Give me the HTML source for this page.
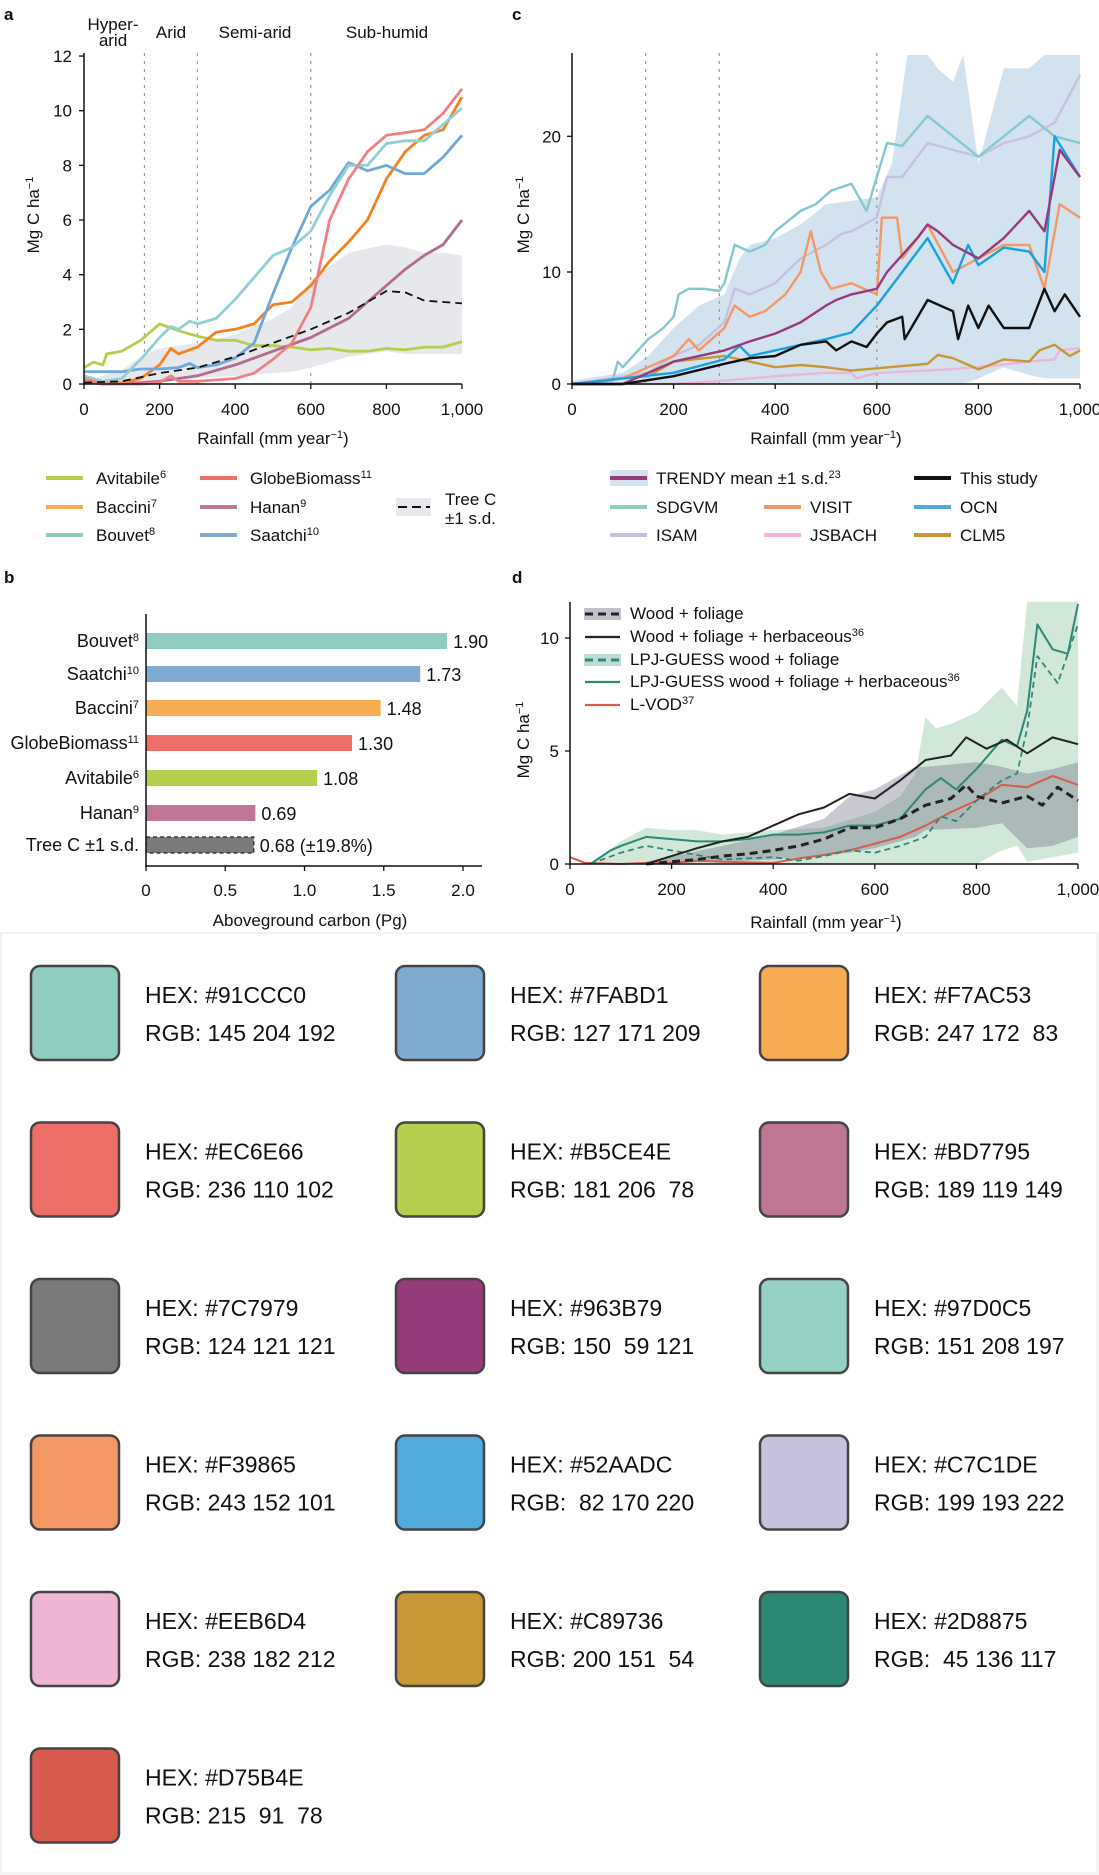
<!DOCTYPE html>
<html><head><meta charset="utf-8">
<style>
html,body{margin:0;padding:0;background:#fff;}
svg{display:block;font-family:"Liberation Sans",Arial,sans-serif;}
.tk{font-size:17px;fill:#111;}
.bk{font-size:18px;fill:#111;}
.lg{font-size:17px;fill:#111;}
.sw{font-family:"Comic Sans MS","Liberation Sans",sans-serif;font-size:23px;fill:#111;}
</style></head>
<body>
<svg id="fig" width="1099" height="1875" viewBox="0 0 1099 1875" xmlns="http://www.w3.org/2000/svg">
<rect x="0" y="932" width="1099" height="943" fill="#f3f3f3"/>
<rect x="2" y="934" width="1094" height="938" fill="#fff"/>
</svg>
<script>
// ---------- Panel a data ----------
const aRain = {
 avit:[0,25,50,60,100,150,200,250,300,350,400,450,500,550,600,650,700,750,800,850,900,950,1000],
 bouv:[0,50,100,150,200,230,250,280,300,350,400,450,500,550,600,650,700,750,800,850,900,950,1000],
 saat:[0,100,150,200,250,280,300,350,400,450,500,550,600,650,700,750,800,850,900,950,1000],
 bacc:[0,50,100,150,200,230,250,300,350,400,450,500,550,600,650,700,750,800,850,900,950,1000],
 glob:[0,50,150,200,230,250,300,350,400,450,500,550,600,625,650,700,750,800,850,900,950,1000],
 hana:[0,50,150,200,300,400,500,600,700,750,800,850,900,950,1000],
 tree:[0,100,200,300,400,500,600,700,750,800,850,900,950,1000]
};
const aAvitabile=[0.6,0.8,0.7,1.1,1.2,1.6,2.2,1.95,1.75,1.6,1.6,1.4,1.4,1.35,1.25,1.3,1.2,1.2,1.3,1.25,1.35,1.35,1.55];
const aBouvet=[0.3,0.1,0.2,0.9,1.7,2.1,2.0,2.3,2.2,2.4,3.1,3.9,4.7,5.0,5.6,6.9,8.0,8.0,8.8,8.9,8.9,9.5,10.1];
const aSaatchi=[0.45,0.45,0.55,0.55,0.6,0.75,0.6,0.7,0.95,1.5,3.3,5.0,6.5,7.1,8.1,7.8,8.0,7.7,7.7,8.3,9.1];
const aBaccini=[0.1,0,0.05,0.2,0.7,1.3,1.1,1.35,1.9,2.0,2.2,2.9,3.0,3.6,4.5,5.2,6.0,7.5,8.5,9.1,9.3,10.5];
const aGlobe=[0.2,0,0,0.05,0.3,0.1,0.1,0.15,0.2,0.4,0.9,1.5,2.8,4.4,6.0,7.5,8.5,9.1,9.2,9.3,9.9,10.8];
const aHanan=[0.1,0,0.05,0.1,0.3,0.7,1.2,1.7,2.4,3.0,3.6,4.2,4.7,5.1,6.0];
const aTree=[0.05,0.1,0.4,0.6,1.0,1.5,2.0,2.6,3.0,3.4,3.35,3.05,3.0,2.95];
const aBandX=[0,100,150,200,300,400,500,550,600,700,800,850,900,950,1000];
const aBandHi=[0.1,0.5,1.0,1.3,1.5,1.8,2.4,2.8,3.8,4.8,5.1,5.0,4.8,4.8,4.7];
const aBandLo=[0,0,0.05,0.1,0.2,0.3,0.4,0.45,0.6,1.0,1.2,1.1,1.1,1.1,1.1];
const aYTicks=[0,2,4,6,8,10,12];
const xTickVals=[0,200,400,600,800,1000];
const xTickLabels=["0","200","400","600","800","1,000"];

// ---------- Panel b data ----------
const bCats=["Bouvet","Saatchi","Baccini","GlobeBiomass","Avitabile","Hanan","Tree C \u00b11 s.d."];
const bSups=["8","10","7","11","6","9",""];
const bVals=[1.90,1.73,1.48,1.30,1.08,0.69,0.68];
const bLabels=["1.90","1.73","1.48","1.30","1.08","0.69","0.68  (\u00b119.8%)"];
const bTicks=[0,0.5,1.0,1.5,2.0];
const bTickLabels=["0","0.5","1.0","1.5","2.0"];

// ---------- Panel c data ----------
const cSdgX=[0,50,80,90,100,120,150,180,200,210,230,260,290,300,320,350,380,400,450,480,510,550,580,600,620,650,700,750,800,850,900,950,1000];
const cSdgvm=[0,0.2,0.3,2,1.5,2.5,4.0,5.0,6.0,8,8.5,8.5,8.3,9,12,11.5,12,13,14.5,15,16,16.5,14.5,17,19.5,19.3,21.5,20,18.5,20,21.5,20,19.5];
const cIsaX=[0,150,200,250,300,320,350,400,450,500,530,550,600,620,650,700,750,800,850,900,950,1000];
const cIsam=[0,1,2.5,3.5,5.5,8.5,8,9,11,12,12.8,13,14,17,17,19.5,19,18.5,19.5,20,21,24.5];
const cVisX=[0,100,150,200,230,250,300,320,350,380,420,450,470,490,510,550,600,610,640,650,700,750,800,850,900,930,960,1000];
const cVisit=[0,0.5,1.5,2.5,4,3,5,7,6,6.5,8,10,13,10,8.5,9,8,14,14,11,13.5,10,11,12,12,8.5,15,14];
const cTrX=[0,100,150,200,300,350,400,450,500,520,550,600,620,680,700,720,750,800,850,900,930,960,1000];
const cTrendy=[0,0,1,2,3,3.8,4.5,5.5,7,7.5,8,8.5,10,12.5,13.5,13,12,11,12.5,14.5,13,19,17];
const cOcnX=[0,200,300,330,350,400,500,550,600,650,700,750,780,800,850,900,930,950,1000];
const cOcn=[0,1,2.2,3.4,2.5,3,4,4.6,7,10,12.5,9,12,10.5,11.8,11.5,10,20,17];
const cStX=[0,100,200,300,350,400,450,500,520,550,580,600,620,650,655,700,750,760,780,800,820,850,900,930,950,970,1000];
const cStudy=[0,0,0.7,1.8,2.3,2.5,3.5,3.8,3,3.8,3.3,4.5,5.5,6,4,7.5,6.5,4,7,5,7,5,5,8.5,6.5,8,6];
const cClmX=[0,100,150,200,300,350,400,450,500,550,600,700,720,750,800,850,900,920,950,980,1000];
const cClm5=[0,0.5,0.7,2,2.5,2,1.5,1.7,1.5,1.2,1.4,1.8,2.6,2.3,1.3,2.2,2,3,3.5,2.5,3];
const cJsX=[0,200,300,400,500,550,560,600,700,800,900,950,960,1000];
const cJsbach=[0,0,0.3,0.7,1.0,1.0,0.5,1.0,1.2,1.5,2,2.2,3,3.2];
const cBandX=[0,100,150,200,250,300,330,350,400,450,500,600,630,660,700,720,750,770,800,850,900,930,1000];
const cBandHi=[0.3,1,2.5,5,7,8,11,12,12.5,13.5,15,15.5,18,26,26,25,24,26,18,25,25,26,26];
const cBandLo=[0,0,0,0,0,0,0,0,0,0,0,0,0,0,0,0,0,0,0.5,1.5,0.8,0.5,0.5];
const cYTicks=[0,10,20];

// ---------- Panel d data ----------
const dWfX=[150,200,250,300,350,400,450,500,550,600,650,700,750,780,800,850,900,930,960,1000];
const dWf=[0,0.1,0.2,0.35,0.45,0.6,0.8,1.1,1.6,1.6,2.0,2.6,2.9,3.5,3.0,2.7,3.0,2.6,3.4,2.8];
const dWfhX=[150,200,250,300,350,400,450,500,550,600,650,700,750,780,820,860,900,950,1000];
const dWfh=[0,0.35,0.7,1.0,1.2,1.7,2.2,2.5,3.1,2.9,3.7,4.6,4.8,5.6,5.1,5.5,4.9,5.6,5.3];
const dLpjX=[40,80,100,150,200,250,300,350,400,450,500,550,600,650,700,730,760,800,850,880,900,920,950,980,1000];
const dLpjH=[0,0.6,0.8,1.2,1.1,1.0,1.0,1.1,1.3,1.3,1.4,1.7,1.7,2.0,3.3,3.8,3.3,4.2,5.5,5.2,6.8,10.6,9.5,9.3,11.5];
const dLpdX=[40,100,150,200,250,300,400,450,500,550,600,650,700,730,760,800,850,880,900,920,960,1000];
const dLpjW=[0,0.5,0.8,0.6,0.4,0.2,0.3,0.15,0.35,0.6,0.5,0.8,1.2,2.1,1.9,2.8,3.7,4.0,6,9.2,8.0,10.6];
const dVodX=[0,30,100,150,200,250,300,400,450,500,550,600,650,700,750,800,850,900,950,1000];
const dLvod=[0.3,0.05,0,0.05,0.05,0.15,0.1,0.05,0.25,0.4,0.6,0.9,1.2,1.7,2.3,2.8,3.5,3.4,3.9,3.5];
const dGrayX=[150,300,400,500,550,600,680,700,800,850,900,950,1000];
const dGrayHi=[0.1,0.8,1.3,2.0,3.0,3.3,4.3,4.3,4.5,4.3,4.0,4.2,4.5];
const dGrayLo=[0,0.1,0.2,0.4,0.5,0.7,1.2,1.5,1.6,1.8,0.7,0.8,1.2];
const dGrnX=[40,100,150,200,250,300,400,500,600,650,680,700,720,750,800,850,880,900,1000];
const dGrnHi=[0,1.0,1.6,1.5,1.5,1.3,1.5,1.6,2.3,3.0,4.0,6.5,6.0,6.2,6.7,7.8,7.0,11.6,11.6];
const dGrnLo=[0,0,0,0,0,0,0,0,0,0,0,0,0,0,0,0.6,0.8,0.1,0.5];
const dYTicks=[0,5,10];

// ---------- Swatches ----------
const swHex=["91CCC0","7FABD1","F7AC53","EC6E66","B5CE4E","BD7795","7C7979","963B79","97D0C5","F39865","52AADC","C7C1DE","EEB6D4","C89736","2D8875","D75B4E"];
const swRgb=["145 204 192","127 171 209","247 172  83","236 110 102","181 206  78","189 119 149","124 121 121","150  59 121","151 208 197","243 152 101"," 82 170 220","199 193 222","238 182 212","200 151  54"," 45 136 117","215  91  78"];

const NS="http://www.w3.org/2000/svg";
const svg=document.getElementById('fig');
function mk(tag,attrs,parent){const e=document.createElementNS(NS,tag);for(const k in attrs)e.setAttribute(k,attrs[k]);(parent||svg).appendChild(e);return e;}
function txt(x,y,s,cls,anchor,parent){const t=mk('text',{x:x,y:y,class:cls||'tk','text-anchor':anchor||'start'},parent);t.textContent=s;return t;}
function sup(t,s){const ts=document.createElementNS(NS,'tspan');ts.setAttribute('baseline-shift','super');ts.setAttribute('font-size','11');ts.textContent=s;t.appendChild(ts);}
function pathD(xs,ys,sx,sy){return xs.map((x,i)=>(i?'L':'M')+sx(x).toFixed(1)+','+sy(ys[i]).toFixed(1)).join('');}
function bandD(xs,hi,lo,sx,sy){let d=pathD(xs,hi,sx,sy);for(let i=xs.length-1;i>=0;i--)d+='L'+sx(xs[i]).toFixed(1)+','+sy(lo[i]).toFixed(1);return d+'Z';}

// ---------- Panel a ----------
const axX=v=>84+v*0.378, axY=v=>384-v*27.33;
const ga=mk('g',{});


let t=txt(4,20,'a','tk','start',ga);t.setAttribute('font-weight','bold');t.setAttribute('font-size','22');
[[160],[300],[600]].forEach(r=>{const l=mk('line',{x1:axX(r[0]),x2:axX(r[0]),y1:53,y2:384,stroke:'#999','stroke-width':1.2,'stroke-dasharray':'3,5'},ga);});
txt(113,30,'Hyper-','tk','middle',ga);txt(113,46,'arid','tk','middle',ga);txt(171,38,'Arid','tk','middle',ga);txt(255,38,'Semi-arid','tk','middle',ga);txt(387,38,'Sub-humid','tk','middle',ga);
const aBand=mk('path',{d:bandD(aBandX,aBandHi,aBandLo,axX,axY),fill:'#e7e8ec'},ga);


const aSeries=[[aRain.avit,aAvitabile,'#b5ce4e','avitabile-line'],[aRain.hana,aHanan,'#b46b91','hanan-line'],[aRain.bacc,aBaccini,'#f58220','baccini-line'],[aRain.saat,aSaatchi,'#6fa9da','saatchi-line'],[aRain.bouv,aBouvet,'#91d0d6','bouvet-line'],[aRain.glob,aGlobe,'#f07f86','globebiomass-line']];
aSeries.forEach(s=>{const p=mk('path',{d:pathD(s[0],s[1],axX,axY),fill:'none',stroke:s[2],'stroke-width':2.8,'stroke-linejoin':'round'},ga);});
const aTr=mk('path',{d:pathD(aRain.tree,aTree,axX,axY),fill:'none',stroke:'#111','stroke-width':1.8,'stroke-dasharray':'8,5'},ga);


mk('line',{x1:84,x2:84,y1:53,y2:385,stroke:'#111','stroke-width':1.5},ga);
mk('line',{x1:83,x2:462,y1:384,y2:384,stroke:'#111','stroke-width':1.5},ga);
aYTicks.forEach(v=>{mk('line',{x1:79,x2:84,y1:axY(v),y2:axY(v),stroke:'#111','stroke-width':1.3},ga);txt(72,axY(v)+6,String(v),'tk','end',ga);});
xTickVals.forEach((v,i)=>{mk('line',{x1:axX(v),x2:axX(v),y1:384,y2:389,stroke:'#111','stroke-width':1.3},ga);txt(axX(v),415,xTickLabels[i],'tk','middle',ga);});
t=txt(0,0,'Mg C ha','tk','middle',ga);t.setAttribute('transform','translate(39,215) rotate(-90)');sup(t,'\u22121');
t=txt(273,444,'Rainfall (mm year','tk','middle',ga);sup(t,'\u22121');t.appendChild(document.createTextNode(')'));

// legend a
const la=[[46,478,'#b5ce4e','Avitabile','6'],[46,507,'#f7ac53','Baccini','7'],[46,535,'#91ccc0','Bouvet','8'],[200,478,'#ec6e66','GlobeBiomass','11'],[200,507,'#bd7795','Hanan','9'],[200,535,'#7fabd1','Saatchi','10']];
la.forEach(e=>{const g=mk('g',{},ga);mk('line',{x1:e[0],x2:e[0]+37,y1:e[1],y2:e[1],stroke:e[2],'stroke-width':4},g);const tt=txt(e[0]+50,e[1]+6,e[3],'lg','start',g);sup(tt,e[4]);});
const lt=mk('g',{},ga);
mk('rect',{x:396,y:498,width:35,height:18,fill:'#e7e8ec'},lt);mk('line',{x1:398,x2:430,y1:507,y2:507,stroke:'#111','stroke-width':2,'stroke-dasharray':'9,5'},lt);
txt(445,505,'Tree C','lg','start',lt);txt(445,524,'\u00b11 s.d.','lg','start',lt);

// ---------- Panel b ----------
const bx=v=>146+v*158.5;
const bRows=[641,674,708,743,778,813,845];
const bColors=['#91ccc0','#7fabd1','#f7ac53','#ec6e66','#b5ce4e','#bd7795','#7c7979'];
const gb=mk('g',{});


t=txt(4,583,'b','tk','start',gb);t.setAttribute('font-weight','bold');t.setAttribute('font-size','22');
bCats.forEach((c,i)=>{const r=mk('rect',{x:146,y:bRows[i]-8,width:bx(bVals[i])-146,height:16,fill:bColors[i]},gb);if(i===6){r.setAttribute('stroke','#222');r.setAttribute('stroke-dasharray','4,3');r.setAttribute('stroke-width','1.3');}
 const tl=txt(139,bRows[i]+6,c,'bk','end',gb);if(bSups[i])sup(tl,bSups[i]);
 txt(bx(bVals[i])+6,bRows[i]+7,bLabels[i],'bk','start',gb);});
mk('line',{x1:146,x2:146,y1:614,y2:866,stroke:'#111','stroke-width':1.5},gb);
mk('line',{x1:145,x2:482,y1:866,y2:866,stroke:'#111','stroke-width':1.5},gb);
bTicks.forEach((v,i)=>{mk('line',{x1:bx(v),x2:bx(v),y1:866,y2:871,stroke:'#111','stroke-width':1.3},gb);txt(bx(v),896,bTickLabels[i],'tk','middle',gb);});
txt(310,926,'Aboveground carbon (Pg)','tk','middle',gb);

// ---------- Panel c ----------
const cx=v=>572+v*0.508;
const cy=v=>{v=Math.min(v,26.1);return v<=10?384-v*11.2:272-(v-10)*13.57;};
const gc=mk('g',{});


t=txt(512,20,'c','tk','start',gc);t.setAttribute('font-weight','bold');t.setAttribute('font-size','22');
const cB=mk('path',{d:bandD(cBandX,cBandHi,cBandLo,cx,cy),fill:'#d3e2ef'},gc);


[145,290,600].forEach(r=>{const l=mk('line',{x1:cx(r),x2:cx(r),y1:53,y2:384,stroke:'#999','stroke-width':1.2,'stroke-dasharray':'3,5'},gc);});
const cSeries=[[cJsX,cJsbach,'#eeb6d4','jsbach-line'],[cClmX,cClm5,'#c89736','clm5-line'],[cIsaX,cIsam,'#c7c1de','isam-line'],[cSdgX,cSdgvm,'#84c9cf','sdgvm-line'],[cVisX,cVisit,'#f39865','visit-line'],[cOcnX,cOcn,'#1a9fdf','ocn-line'],[cTrX,cTrendy,'#963b79','trendy-mean-line'],[cStX,cStudy,'#111','this-study-line']];
cSeries.forEach(s=>{const p=mk('path',{d:pathD(s[0],s[1],cx,cy),fill:'none',stroke:s[2],'stroke-width':2.4,'stroke-linejoin':'round'},gc);});
mk('line',{x1:572,x2:572,y1:53,y2:385,stroke:'#111','stroke-width':1.5},gc);
mk('line',{x1:571,x2:1080,y1:384,y2:384,stroke:'#111','stroke-width':1.5},gc);
cYTicks.forEach(v=>{mk('line',{x1:567,x2:572,y1:cy(v),y2:cy(v),stroke:'#111','stroke-width':1.3},gc);txt(561,cy(v)+6,String(v),'tk','end',gc);});
xTickVals.forEach((v,i)=>{mk('line',{x1:cx(v),x2:cx(v),y1:384,y2:389,stroke:'#111','stroke-width':1.3},gc);txt(cx(v),415,xTickLabels[i],'tk','middle',gc);});
t=txt(0,0,'Mg C ha','tk','middle',gc);t.setAttribute('transform','translate(529,215) rotate(-90)');sup(t,'\u22121');
t=txt(826,444,'Rainfall (mm year','tk','middle',gc);sup(t,'\u22121');t.appendChild(document.createTextNode(')'));
const lc=[[610,478,'#963b79','TRENDY mean \u00b11 s.d.','23'],[610,507,'#91ccc0','SDGVM',''],[610,535,'#c7c1de','ISAM',''],[764,507,'#f39865','VISIT',''],[764,535,'#eeb6d4','JSBACH',''],[914,478,'#111','This study',''],[914,507,'#52aadc','OCN',''],[914,535,'#c89736','CLM5','']];
lc.forEach((e,i)=>{const g=mk('g',{},gc);if(i===0)mk('rect',{x:e[0],y:e[1]-8,width:38,height:16,fill:'#d3e2ef'},g);mk('line',{x1:e[0],x2:e[0]+37,y1:e[1],y2:e[1],stroke:e[2],'stroke-width':4},g);const tt=txt(e[0]+46,e[1]+6,e[3],'lg','start',g);if(e[4])sup(tt,e[4]);});

// ---------- Panel d ----------
const dx=v=>570+v*0.508, dy=v=>864-Math.min(v,11.6)*22.6;
const gd=mk('g',{});


t=txt(512,583,'d','tk','start',gd);t.setAttribute('font-weight','bold');t.setAttribute('font-size','22');
const dG=mk('path',{d:bandD(dGrnX,dGrnHi,dGrnLo,dx,dy),fill:'rgba(70,160,100,0.25)'},gd);


const dGr=mk('path',{d:bandD(dGrayX,dGrayHi,dGrayLo,dx,dy),fill:'rgba(100,100,125,0.35)'},gd);


const dSeries=[[dVodX,dLvod,'#d75b4e',2,'','l-vod-line'],[dLpdX,dLpjW,'#2d8875',1.8,'6,4','lpj-wood-foliage-line'],[dLpjX,dLpjH,'#2d8875',2,'','lpj-wood-foliage-herb-line'],[dWfhX,dWfh,'#222',2,'','wood-foliage-herb-line'],[dWfX,dWf,'#222',3,'8,5','wood-foliage-line']];
dSeries.forEach(s=>{const a={d:pathD(s[0],s[1],dx,dy),fill:'none',stroke:s[2],'stroke-width':s[3],'stroke-linejoin':'round'};if(s[4])a['stroke-dasharray']=s[4];const p=mk('path',a,gd);});
mk('line',{x1:570,x2:570,y1:602,y2:865,stroke:'#111','stroke-width':1.5},gd);
mk('line',{x1:569,x2:1078,y1:864,y2:864,stroke:'#111','stroke-width':1.5},gd);
dYTicks.forEach(v=>{mk('line',{x1:565,x2:570,y1:dy(v),y2:dy(v),stroke:'#111','stroke-width':1.3},gd);txt(559,dy(v)+6,String(v),'tk','end',gd);});
xTickVals.forEach((v,i)=>{mk('line',{x1:dx(v),x2:dx(v),y1:864,y2:869,stroke:'#111','stroke-width':1.3},gd);txt(dx(v),895,xTickLabels[i],'tk','middle',gd);});
t=txt(0,0,'Mg C ha','tk','middle',gd);t.setAttribute('transform','translate(529,740) rotate(-90)');sup(t,'\u22121');
t=txt(826,928,'Rainfall (mm year','tk','middle',gd);sup(t,'\u22121');t.appendChild(document.createTextNode(')'));
const ld=[[614,'#222','8,5','rgba(100,100,125,0.4)','Wood + foliage',''],[637,'#222','','', 'Wood + foliage + herbaceous','36'],[660,'#2d8875','8,5','rgba(45,136,117,0.3)','LPJ-GUESS wood + foliage',''],[682,'#2d8875','','','LPJ-GUESS wood + foliage + herbaceous','36'],[705,'#d75b4e','','','L-VOD','37']];
ld.forEach(e=>{const g=mk('g',{},gd);if(e[3])mk('rect',{x:584,y:e[0]-6,width:37,height:12,fill:e[3]},g);const a={x1:585,x2:620,y1:e[0],y2:e[0],stroke:e[1],'stroke-width':e[2]?3:2.2};if(e[2])a['stroke-dasharray']=e[2];mk('line',a,g);const tt=txt(630,e[0]+5,e[4],'tk','start',g);tt.setAttribute('font-size','14');if(e[5])sup(tt,e[5]);});

// ---------- Swatches ----------
const swCols=[31,396,760];
swHex.forEach((h,i)=>{const x=swCols[i%3], y=966+Math.floor(i/3)*156.5;
 const g=mk('g',{});
 
 
 mk('rect',{x:x,y:y,width:88,height:94,rx:9,fill:'#'+h,stroke:'#444','stroke-width':2.5},g);
 txt(x+114,y+37,'HEX: #'+h,'sw','start',g);
 const r=txt(x+114,y+75,'RGB: '+swRgb[i],'sw','start',g);r.setAttribute('xml:space','preserve');r.style.whiteSpace='pre';
});
</script>
</body></html>
